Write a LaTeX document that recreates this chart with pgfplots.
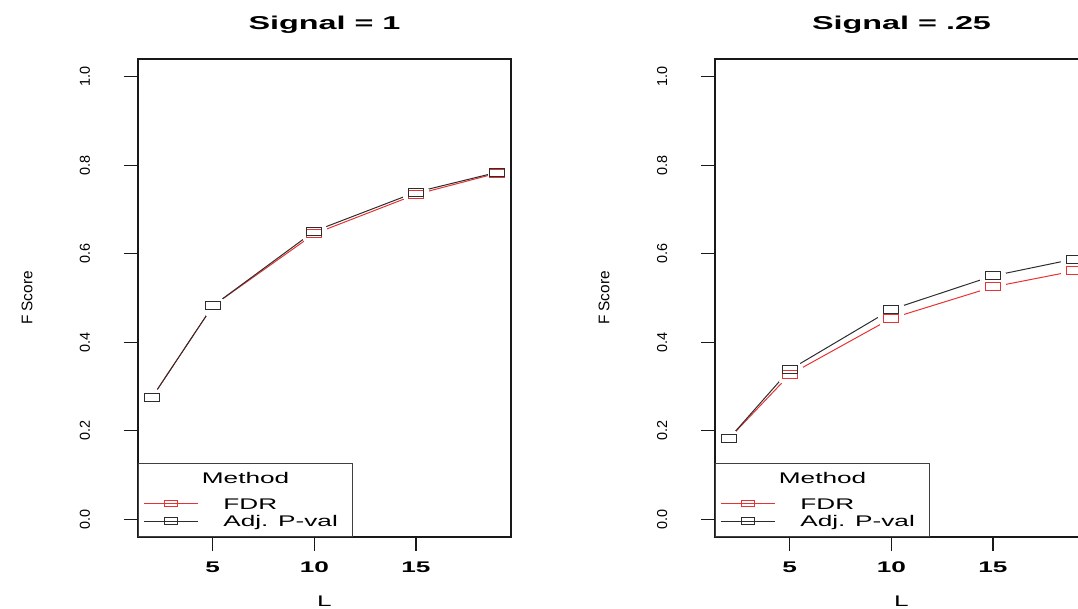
\documentclass[border=0pt]{standalone}
\usepackage{pgfplots}
\pgfplotsset{compat=1.18}
\usepackage{fontspec}
\setmainfont{Liberation Sans}
\usepackage{graphicx}

\definecolor{fdr}{RGB}{232,50,50}
\definecolor{adj}{RGB}{45,45,45}
\definecolor{axc}{RGB}{25,25,25}

\newcommand{\hs}[2][1.7]{\scalebox{#1}[1]{#2}}

\pgfplotsset{
  rpanel/.style={
    scale only axis, width=373pt, height=478pt,
    xmin=1.32, xmax=19.68, ymin=-0.04, ymax=1.04,
    axis on top,
    xtick={5,10,15}, xticklabels={\hs{5},\hs{10},\hs{15}},
    ytick={0,0.2,0.4,0.6,0.8,1.0}, yticklabels={0.0,0.2,0.4,0.6,0.8,1.0},
    tick align=outside, tick pos=left,
    major tick length=14pt,
    axis line style={line width=1.8pt, draw=axc},
    every tick/.style={line width=1.4pt, draw=axc},
    xticklabel style={font=\fontsize{15.4}{18}\selectfont\bfseries, yshift=-21.5pt, anchor=base, inner sep=0pt},
    yticklabel style={font=\fontsize{14.4}{17}\selectfont, xshift=-34pt, rotate=90, anchor=base, inner sep=0pt},
    every axis title/.style={at={(axis description cs:0.5,1.0607)}, anchor=base, inner sep=0pt,
      font=\fontsize{18.6}{21}\selectfont\bfseries},
    every axis x label/.style={at={(axis description cs:0.5,-0.1454)}, anchor=base, inner sep=0pt,
      font=\fontsize{15.4}{18}\selectfont},
    every axis y label/.style={at={(axis description cs:-0.2976,0.5)}, rotate=90, anchor=center, inner sep=0pt,
      font=\fontsize{15.4}{18}\selectfont},
    xlabel={\hs{L}}, ylabel={F Score},
    legend cell align=left,
    legend style={at={(axis description cs:0,0)}, anchor=south west,
      draw=black!75, line width=0.8pt, fill=none,
      inner xsep=5pt, inner ysep=0pt, row sep=0pt, column sep=25pt,
      nodes={inner sep=0pt, text depth=, text height=, font=\fontsize{15.4}{18}\selectfont},
      cells={anchor=base west}},
    legend image code/.code={
      \draw[##1, mark=none] (0pt,5.5pt) -- (54pt,5.5pt);
      \draw[##1, only marks, mark size=3.3pt] plot coordinates {(27pt,5.5pt)};
    },
  },
  fdrline/.style={fdr, line width=1pt, forget plot},
  adjline/.style={adj, line width=1pt, forget plot},
  sqm/.style={mark=square, mark size=4pt, mark options={xscale=1.9, line width=1pt, solid}},
  gapmask/.style={only marks, white, mark=*, mark size=10.5pt, mark options={xscale=1.24, fill=white, draw=white, line width=0pt}, forget plot},
  endmask/.style={only marks, white, mark=*, mark size=10.5pt, mark options={xscale=0.85, fill=white, draw=white, line width=0pt}, forget plot},
}

\newcommand{\legtitle}{\makebox[124pt][l]{\hspace*{-21.5pt}\rule[-13.5pt]{0pt}{33.5pt}\hs{Method}}}
\newcommand{\legfdr}{\makebox[124pt][l]{\rule[-5.5pt]{0pt}{17.5pt}\hs{FDR}}}
\newcommand{\legadj}{\makebox[124pt][l]{\rule[-10pt]{0pt}{22pt}\hs{Adj. P-val}}}

\begin{document}
\begin{tikzpicture}[x=1pt,y=1pt]

% ---------------- Signal = 1 ----------------
\begin{axis}[rpanel, at={(138pt,72pt)}, anchor=south west, title={\hs[1.74]{Signal = 1}}]
\addplot[fdrline] coordinates {(2,0.2746) (5,0.482) (10,0.645) (15,0.734) (19,0.782)};
\addplot[adjline] coordinates {(2,0.2746) (5,0.482) (10,0.651) (15,0.739) (19,0.784)};
\addplot[gapmask] coordinates {(5,0.482) (10,0.645) (15,0.734)};
\addplot[gapmask] coordinates {(5,0.482) (10,0.651) (15,0.739)};
\addplot[endmask] coordinates {(2,0.2746) (19,0.782) (19,0.784)};
\addplot[fdr, only marks, sqm, forget plot] coordinates {(2,0.2746) (5,0.482) (10,0.645) (15,0.734) (19,0.782)};
\addplot[adj, only marks, sqm, forget plot] coordinates {(2,0.2746) (5,0.482) (10,0.651) (15,0.739) (19,0.784)};
\addlegendimage{empty legend}\addlegendentry{\legtitle}
\addlegendimage{fdr, line width=1pt, sqm}\addlegendentry{\legfdr}
\addlegendimage{adj, line width=1pt, sqm}\addlegendentry{\legadj}
\end{axis}

% ---------------- Signal = .25 ----------------
\begin{axis}[rpanel, at={(715pt,72pt)}, anchor=south west, title={\hs[1.74]{Signal = .25}}]
\addplot[fdrline] coordinates {(2,0.182) (5,0.327) (10,0.454) (15,0.525) (19,0.561)};
\addplot[adjline] coordinates {(2,0.182) (5,0.338) (10,0.474) (15,0.550) (19,0.588)};
\addplot[gapmask] coordinates {(5,0.327) (10,0.454) (15,0.525) (19,0.561)};
\addplot[gapmask] coordinates {(5,0.338) (10,0.474) (15,0.550) (19,0.588)};
\addplot[endmask] coordinates {(2,0.182)};
\addplot[fdr, only marks, sqm, forget plot] coordinates {(2,0.182) (5,0.327) (10,0.454) (15,0.525) (19,0.561)};
\addplot[adj, only marks, sqm, forget plot] coordinates {(2,0.182) (5,0.338) (10,0.474) (15,0.550) (19,0.588)};
\addlegendimage{empty legend}\addlegendentry{\legtitle}
\addlegendimage{fdr, line width=1pt, sqm}\addlegendentry{\legfdr}
\addlegendimage{adj, line width=1pt, sqm}\addlegendentry{\legadj}
\end{axis}

\pgfresetboundingbox
\path[use as bounding box] (0pt,0pt) rectangle (1078pt,609pt);
\end{tikzpicture}
\end{document}
